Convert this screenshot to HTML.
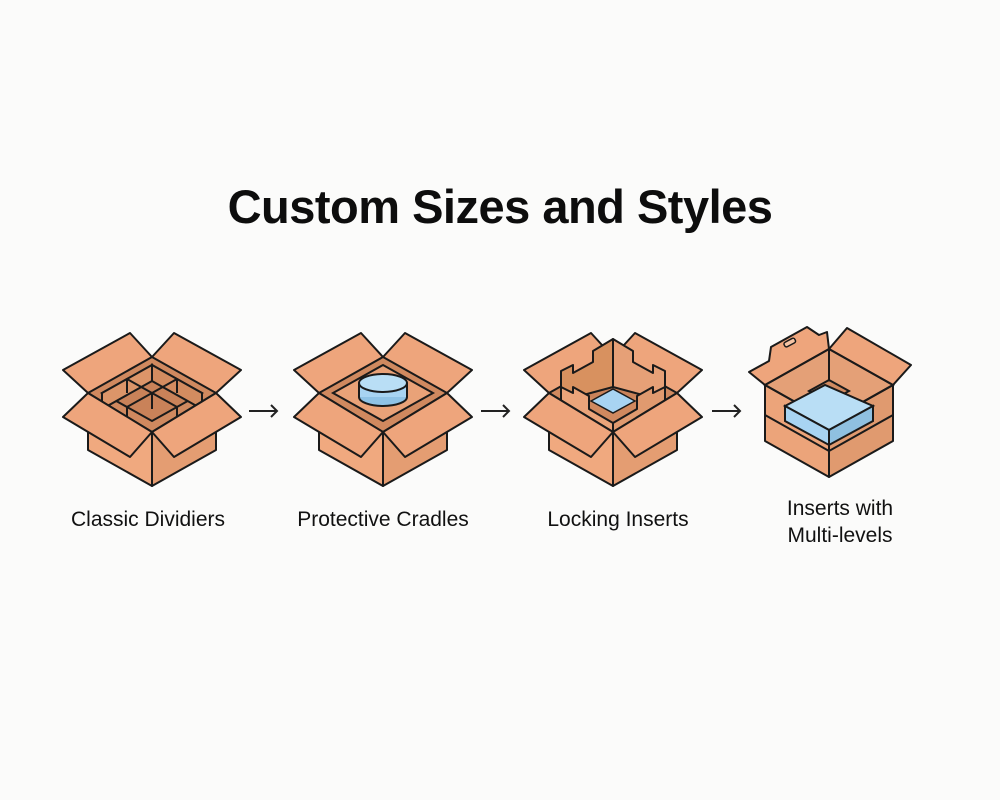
<!DOCTYPE html>
<html><head><meta charset="utf-8"><style>
html,body{margin:0;padding:0;background:#fbfbfa;}
.wrap{position:relative;width:1000px;height:800px;overflow:hidden;font-family:"Liberation Sans",sans-serif;}
h1{position:absolute;top:179px;left:0;width:1000px;text-align:center;margin:0;font-size:47px;font-weight:bold;color:#0d0d0d;letter-spacing:-0.5px;}
.lbl{position:absolute;width:240px;text-align:center;font-size:21px;color:#111;line-height:27px;}
</style></head><body><div class="wrap">
<svg width="1000" height="800" style="position:absolute;left:0;top:0">
<defs>
<g id="back">
 <polygon points="-64,0 0,-36 64,0 0,39" fill="#d0895f"/>
 <polygon points="-64,0 0,-36 -22,-60 -89,-23" fill="#eea57c" stroke="#1a1a1a" stroke-width="2" stroke-linejoin="round"/>
 <polygon points="64,0 0,-36 22,-60 89,-23" fill="#eea57c" stroke="#1a1a1a" stroke-width="2" stroke-linejoin="round"/>
</g>
<g id="front">
 <polygon points="-64,0 0,39 0,93 -64,57" fill="#f0a97f" stroke="#1a1a1a" stroke-width="2" stroke-linejoin="round"/>
 <polygon points="64,0 0,39 0,93 64,57" fill="#e49d72" stroke="#1a1a1a" stroke-width="2" stroke-linejoin="round"/>
 <polygon points="-64,0 0,39 -22,64 -89,24" fill="#eea57c" stroke="#1a1a1a" stroke-width="2" stroke-linejoin="round"/>
 <polygon points="64,0 0,39 22,64 89,24" fill="#eea57c" stroke="#1a1a1a" stroke-width="2" stroke-linejoin="round"/>
</g>
</defs>
<!-- Box1 -->
<g transform="translate(152,393)">
 <use href="#back"/>
 <polygon points="-50,0 0,-28 50,0 0,28" fill="#c98259" stroke="#1a1a1a" stroke-width="2"/>
 <polygon points="-50,0 0,-28 0,-12 -50,16" fill="#dc9569" stroke="#1a1a1a" stroke-width="2"/>
 <polygon points="50,0 0,-28 0,-12 50,16" fill="#d38c60" stroke="#1a1a1a" stroke-width="2"/>
 <path d="M-25,-14 L25,14 M25,-14 L-25,14" stroke="#1a1a1a" stroke-width="2" fill="none"/>
 <path d="M-25,-14 v14 M25,-14 v14 M0,0 v16 M-25,14 v10 M25,14 v10" stroke="#1a1a1a" stroke-width="2" fill="none"/>
 <use href="#front"/>
</g>
<!-- Box2 -->
<g transform="translate(383,393)">
 <use href="#back"/>
 <polygon points="-50,0 0,-28 50,0 0,28" fill="#e9a278" stroke="#1a1a1a" stroke-width="2"/>
 <ellipse cx="0" cy="4" rx="24" ry="9" fill="#8fc3e6" stroke="#1a1a1a" stroke-width="2"/>
 <rect x="-24" y="-10" width="48" height="14" fill="#a8d4f2"/>
 <ellipse cx="0" cy="-10" rx="24" ry="9" fill="#b9def5" stroke="#1a1a1a" stroke-width="2"/>
 <path d="M-24,-10 V4 M24,-10 V4" stroke="#1a1a1a" stroke-width="2"/>
 <use href="#front"/>
</g>
<!-- Box3 -->
<g transform="translate(613,393)">
 <use href="#back"/>
 <!-- back walls of insert -->
 <path d="M-52,-8 L0,-36 L52,-8 L52,-6 L0,12 L-52,-6 Z" fill="#c98259"/>
 <path d="M-52,8 L-52,-22 L-40,-28 L-40,-20 L-20,-31 L-20,-42 L0,-54 L0,-6 Z" fill="#d8915f" stroke="#1a1a1a" stroke-width="2" stroke-linejoin="round"/>
 <path d="M52,8 L52,-22 L40,-28 L40,-20 L20,-31 L20,-42 L0,-54 L0,-6 Z" fill="#e6a077" stroke="#1a1a1a" stroke-width="2" stroke-linejoin="round"/>
 <polygon points="-22,8 0,-4 22,8 0,20" fill="#a8d4f2" stroke="#1a1a1a" stroke-width="1.5"/>
 <!-- front walls -->
 <path d="M-52,8 L-52,-6 L-40,0 L-40,-6 L-24,3 L-24,16 L0,30 L0,40 Z" fill="#eaa47a" stroke="#1a1a1a" stroke-width="2" stroke-linejoin="round"/>
 <path d="M52,8 L52,-6 L40,0 L40,-6 L24,3 L24,16 L0,30 L0,40 Z" fill="#e09a6f" stroke="#1a1a1a" stroke-width="2" stroke-linejoin="round"/>
 <use href="#front"/>
</g>
<!-- Box4 -->
<g transform="translate(829,385)">
 <polygon points="-64,0 0,-36 64,0 0,36" fill="#e4a077"/>
 <path d="M-64,0 L-80,-13 L-60,-24 L-58,-38 L-22,-58 L-10,-50 L-2,-53 L0,-36 Z" fill="#eea57c" stroke="#1a1a1a" stroke-width="2" stroke-linejoin="round"/>
 <rect x="-45" y="-45" width="12" height="5" rx="2" transform="rotate(-28 -39 -42)" fill="#f6c4a4" stroke="#1a1a1a" stroke-width="1.5"/>
 <polygon points="64,0 0,-36 18,-57 82,-20" fill="#eea57c" stroke="#1a1a1a" stroke-width="2" stroke-linejoin="round"/>
 <polygon points="-20,6 0,-5 20,6 0,17" fill="#d08a60" stroke="#1a1a1a" stroke-width="2"/>
 <polygon points="-8,14 0,9 8,14 0,19" fill="#a8d4f2"/>
 <path d="M0,-36 V-5" stroke="#1a1a1a" stroke-width="2"/>
 <polygon points="-64,0 0,36 0,92 -64,56" fill="#eca47a" stroke="#1a1a1a" stroke-width="2" stroke-linejoin="round"/>
 <polygon points="64,0 0,36 0,92 64,56" fill="#e09a6f" stroke="#1a1a1a" stroke-width="2" stroke-linejoin="round"/>
 <polygon points="-64,0 0,-36 64,0 0,36" fill="none" stroke="#1a1a1a" stroke-width="2"/>
 <path d="M-64,30 L0,66 L64,30" fill="none" stroke="#1a1a1a" stroke-width="2"/>
 <polygon points="-44,21 -4,0 44,21 0,45" fill="#b9def5" stroke="#1a1a1a" stroke-width="2"/>
 <polygon points="-44,21 0,45 0,60 -44,36" fill="#a8d4f2" stroke="#1a1a1a" stroke-width="2"/>
 <polygon points="44,21 0,45 0,60 44,36" fill="#8fc0e0" stroke="#1a1a1a" stroke-width="2"/>
</g>
<g stroke="#222" stroke-width="2" fill="none">
 <path d="M249,411 H277 M271,405 L277,411 L271,417"/>
 <path d="M481,411 H509 M503,405 L509,411 L503,417"/>
 <path d="M712,411 H740 M734,405 L740,411 L734,417"/>
</g>
</svg>
<h1>Custom Sizes and Styles</h1>
<div class="lbl" style="left:28px;top:506px">Classic Dividiers</div>
<div class="lbl" style="left:263px;top:506px">Protective Cradles</div>
<div class="lbl" style="left:498px;top:506px">Locking Inserts</div>
<div class="lbl" style="left:720px;top:495px">Inserts with<br>Multi-levels</div>
</div></body></html>
